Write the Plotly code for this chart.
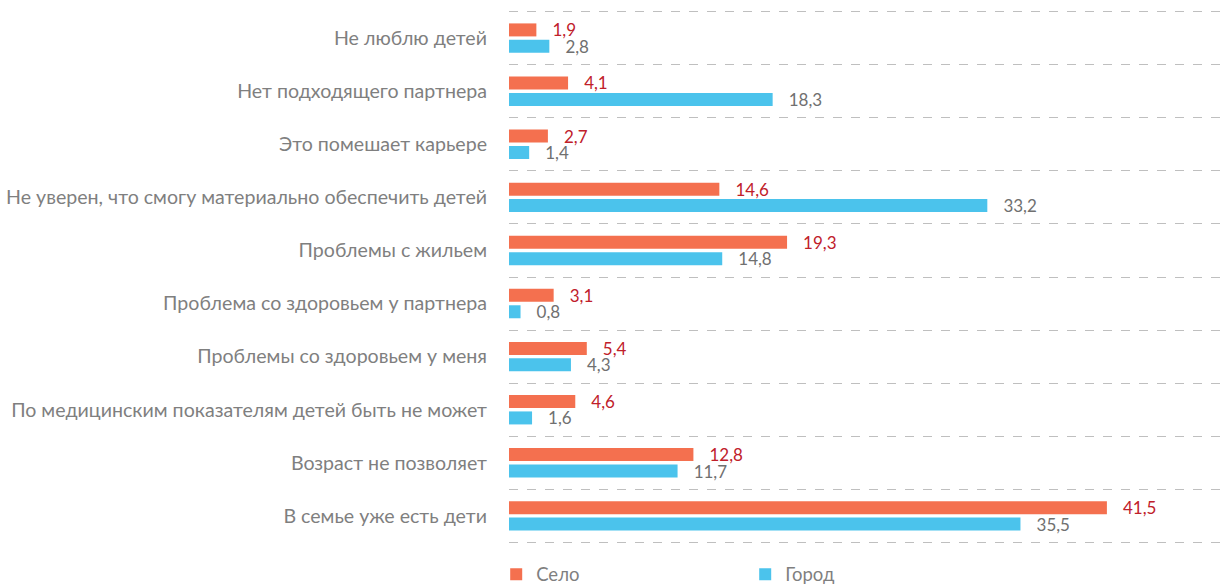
import plotly.graph_objects as go

categories = [
    "Не люблю детей",
    "Нет подходящего партнера",
    "Это помешает карьере",
    "Не уверен, что смогу материально обеспечить детей",
    "Проблемы с жильем",
    "Проблема со здоровьем у партнера",
    "Проблемы со здоровьем у меня",
    "По медицинским показателям детей быть не может",
    "Возраст не позволяет",
    "В семье уже есть дети",
]
selo = [1.9, 4.1, 2.7, 14.6, 19.3, 3.1, 5.4, 4.6, 12.8, 41.5]
gorod = [2.8, 18.3, 1.4, 33.2, 14.8, 0.8, 4.3, 1.6, 11.7, 35.5]

FONT = "Lato"
positions = list(range(len(categories)))
boundaries = [p - 0.5 for p in positions] + [positions[-1] + 0.5]
yrange = [boundaries[-1] + 0.03, boundaries[0] - 0.03]

fig = go.Figure()
fig.add_trace(go.Bar(
    name="Село", y=positions, x=selo, orientation="h",
    marker=dict(color="#F4704F", line=dict(width=0)),
    texttemplate="\u00a0\u00a0\u00a0%{x:.1f}", textposition="outside",
    constraintext="none",
    textfont=dict(color="#C0202A", size=17, family=FONT),
    cliponaxis=False,
))
fig.add_trace(go.Bar(
    name="Город", y=positions, x=gorod, orientation="h",
    marker=dict(color="#4BC3EC", line=dict(width=0)),
    texttemplate="\u00a0\u00a0\u00a0%{x:.1f}", textposition="outside",
    constraintext="none",
    textfont=dict(color="#707070", size=17, family=FONT),
    cliponaxis=False,
))

fig.update_layout(
    width=1220, height=588,
    margin=dict(l=509, r=0, t=10.4, b=44.4, autoexpand=False),
    barmode="group", bargap=0.38, bargroupgap=0.21,
    separators=", ",
    plot_bgcolor="white", paper_bgcolor="white",
    font=dict(family=FONT, size=19.6, color="#7F7F7F"),
    showlegend=True,
    legend=dict(orientation="h", x=-0.018, xanchor="left", y=-0.022, yanchor="top",
                entrywidth=204, entrywidthmode="pixels", itemwidth=30,
                font=dict(size=18.5, color="#7F7F7F", family=FONT)),
)
fig.update_xaxes(range=[0, 49.35], showgrid=False, showticklabels=False,
                 zeroline=False, showline=False, ticks="", automargin=False)
fig.update_yaxes(range=yrange,
                 tickmode="array", tickvals=positions, ticktext=categories,
                 showgrid=False, zeroline=False, showline=False, ticks="",
                 ticklabelstandoff=21, automargin=False,
                 tickfont=dict(size=19.6, color="#7F7F7F", family=FONT),
                 minor=dict(tickmode="array", tickvals=boundaries, showgrid=True,
                            gridcolor="#BFBFBF", griddash="dash", gridwidth=1,
                            ticks=""))

fig.write_html("out.html", config={"displayModeBar": False},
               post_script="document.body.style.margin='0px';document.body.style.overflow='hidden';")
